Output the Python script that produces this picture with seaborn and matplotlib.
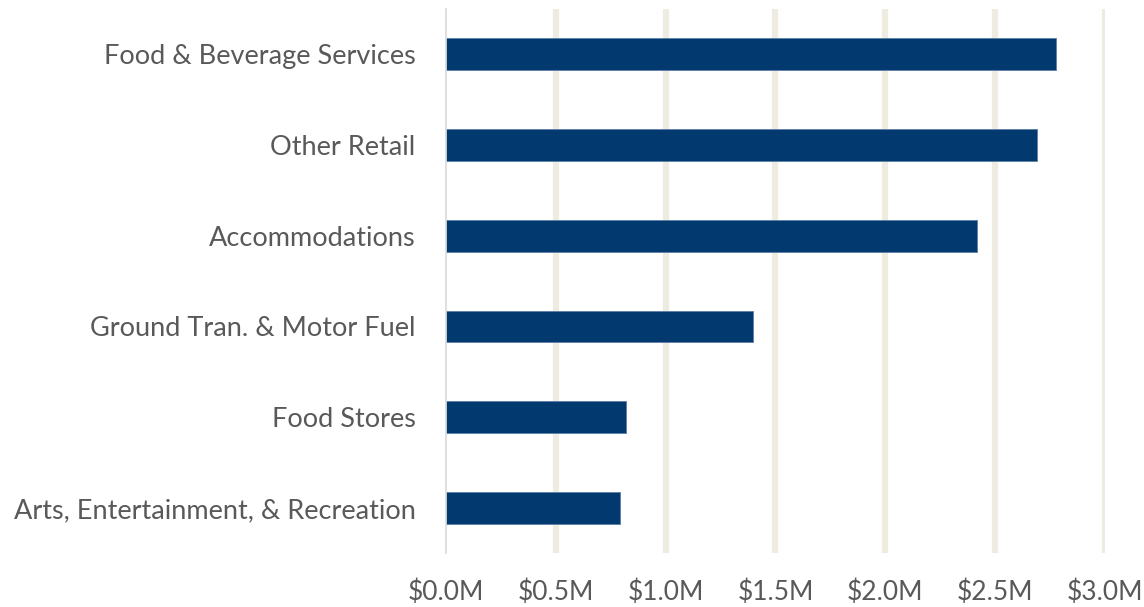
import matplotlib.pyplot as plt
import seaborn as sns
import pandas as pd

# Spending by category (millions of dollars)
categories = ['Food & Beverage Services', 'Other Retail', 'Accommodations',
              'Ground Tran. & Motor Fuel', 'Food Stores',
              'Arts, Entertainment, & Recreation']
spending = [2.78, 2.69, 2.42, 1.40, 0.82, 0.79]
x_ticks = [0.0, 0.5, 1.0, 1.5, 2.0, 2.5, 3.0]

df = pd.DataFrame({'Category': categories, 'Spending': spending})

sns.set_theme(style="white")
plt.rcParams['font.family'] = ['Lato', 'DejaVu Sans']

fig = plt.figure(figsize=(11.44, 6.07), dpi=100)
ax = fig.add_axes([0.3901, 0.0883, 0.5754, 0.8975])

sns.barplot(data=df, y='Category', x='Spending', color='#023A70',
            saturation=1, width=0.35, edgecolor='#5b7fa6', linewidth=0.6, ax=ax)

ax.set_xlim(0, 3.0)
ax.set_ylim(5.5, -0.5)
ax.set_xticks(x_ticks)
ax.set_xticklabels([f'${v:.1f}M' for v in x_ticks])
for v in x_ticks[1:]:
    ax.axvline(v, color='#EEEBE0', linewidth=4.5, zorder=0)

for side in ['top', 'right', 'bottom']:
    ax.spines[side].set_visible(False)
ax.spines['left'].set_color('#d9d9d9')
ax.spines['left'].set_linewidth(1.2)

ax.set_xlabel('')
ax.set_ylabel('')
ax.tick_params(axis='x', length=0, pad=19, labelsize=19, labelcolor='#595959')
ax.tick_params(axis='y', length=0, pad=22, labelsize=19.5, labelcolor='#595959')

fig.savefig('out.png', dpi=100)
